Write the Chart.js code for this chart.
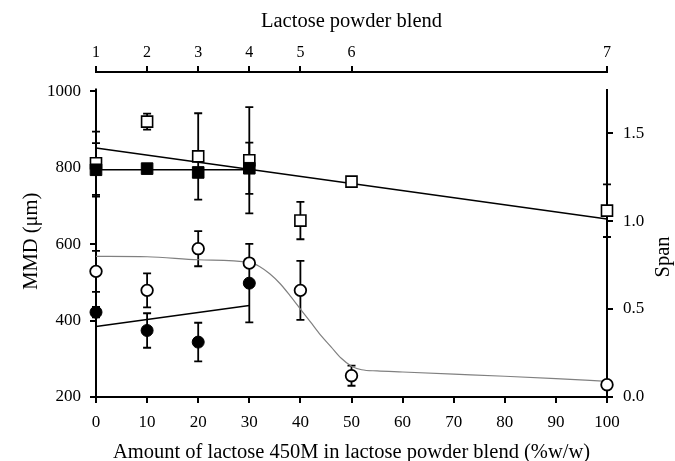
<!DOCTYPE html>
<html><head><meta charset="utf-8">
<script src="https://cdn.jsdelivr.net/npm/chart.js@4/dist/chart.umd.min.js"></script>
<style>html,body{margin:0;padding:0;background:#fff}canvas{display:block}</style>
</head><body>
<canvas id="c" width="675" height="461"></canvas>
<script>
// ---- data ----
const xPct = [0,10,20,30,40,50,100];           // % lactose 450M
const blendLabels = ['1','2','3','4','5','6','7']; // top axis (blend number)
const xTicksBottom = [0,10,20,30,40,50,60,70,80,90,100];
const mmdTicks = [200,400,600,800,1000];
const spanTicks = [0,0.5,1.0,1.5];

const openSqMMD = [812,921,830,820,662,764,688];
const openSqErr = [83,21,113,139,49,6,69];
const filledSqX = [0,10,20,30];
const filledSqMMD = [795,798,788,799];
const filledSqErr = [70,0,0,67];
const openCircSpan = [0.714,0.606,0.843,0.761,0.606,0.121,0.070];
const openCircErr = [0.116,0.097,0.10,0.02,0.168,0.057,0.01];
const filledCircX = [0,10,20,30];
const filledCircSpan = [0.482,0.378,0.312,0.647];
const filledCircErr = [0.03,0.098,0.11,0.223];

const openSqFitX = [0,100];      const openSqFitY = [852,666];
const filledSqFitX = [0,30];     const filledSqFitY = [795,795];
const filledCircFitX = [0,30];   const filledCircFitY = [0.401,0.520];
const sigFitX = [0,10,20,30,32,34,36,38,40,42,44,46,48,50,52,55,60,70,80,90,100];
const sigFitY = [0.799,0.797,0.78,0.765,0.742,0.70,0.645,0.575,0.50,0.425,0.35,0.285,0.22,0.175,0.155,0.148,0.142,0.13,0.118,0.104,0.089];

const pts = (xs, ys) => xs.map((x,i)=>({x:x, y:ys[i]}));
const FONT = 'Liberation Serif';
Chart.defaults.font.family = FONT;
Chart.defaults.color = '#000';

const errorBars = {
  id:'errorBars',
  beforeDatasetsDraw(chart){
    const ctx = chart.ctx;
    const a = chart.chartArea, s = chart.scales;
    // vertical axis lines
    ctx.save(); ctx.strokeStyle='#000'; ctx.lineWidth=2;
    ctx.beginPath();
    ctx.moveTo(a.left, s.y.getPixelForValue(mmdTicks[mmdTicks.length-1]) - 3);
    ctx.lineTo(a.left, a.bottom);
    ctx.moveTo(a.right, s.y2.getPixelForValue(1.75));
    ctx.lineTo(a.right, a.bottom + 4);
    ctx.stroke(); ctx.restore();
    chart.data.datasets.forEach((ds,di)=>{
      if(!ds.errors) return;
      const meta = chart.getDatasetMeta(di);
      const xs = chart.scales[meta.xAxisID], ys = chart.scales[meta.yAxisID];
      ctx.save(); ctx.strokeStyle='#000'; ctx.lineWidth=1.8;
      ds.data.forEach((p,i)=>{
        const e = ds.errors[i]; if(!e) return;
        const px = xs.getPixelForValue(p.x);
        const y1 = ys.getPixelForValue(p.y+e), y2 = ys.getPixelForValue(p.y-e);
        ctx.beginPath();
        ctx.moveTo(px,y1); ctx.lineTo(px,y2);
        ctx.moveTo(px-4,y1); ctx.lineTo(px+4,y1);
        ctx.moveTo(px-4,y2); ctx.lineTo(px+4,y2);
        ctx.stroke();
      });
      ctx.restore();
    });
  },
  afterDraw(chart){
    const ctx = chart.ctx, s = chart.scales;
    ctx.save();
    ctx.fillStyle='#000';
    ctx.font = '20.5px "'+FONT+'"';
    ctx.textAlign='center'; ctx.textBaseline='middle';
    const yMid = (s.y.getPixelForValue(200)+s.y.getPixelForValue(1000))/2 - 3;
    ctx.save(); ctx.translate(32, yMid); ctx.rotate(-Math.PI/2); ctx.fillText('MMD (μm)',0,0); ctx.restore();
    ctx.save(); ctx.translate(664, 257); ctx.rotate(-Math.PI/2); ctx.fillText('Span',0,0); ctx.restore();
    ctx.restore();
  }
};

const tickGrid = {drawOnChartArea:false, drawTicks:true, tickLength:6, color:'#000', lineWidth:2};

new Chart(document.getElementById('c'), {
  type:'scatter',
  data:{ datasets:[
    {label:'open squares', data:pts(xPct, openSqMMD), errors:openSqErr, xAxisID:'x', yAxisID:'y',
     pointStyle:'rect', pointRadius:7.8, backgroundColor:'#fff', borderColor:'#000', borderWidth:1.6, showLine:false, order:2, clip:false},
    {label:'filled squares', data:pts(filledSqX, filledSqMMD), errors:filledSqErr, xAxisID:'x', yAxisID:'y',
     pointStyle:'rect', pointRadius:8.2, backgroundColor:'#000', borderColor:'#000', borderWidth:1, showLine:false, order:1, clip:false},
    {label:'open circles', data:pts(xPct, openCircSpan), errors:openCircErr, xAxisID:'x', yAxisID:'y2',
     pointStyle:'circle', pointRadius:5.8, backgroundColor:'#fff', borderColor:'#000', borderWidth:1.8, showLine:false, order:1, clip:false},
    {label:'filled circles', data:pts(filledCircX, filledCircSpan), errors:filledCircErr, xAxisID:'x', yAxisID:'y2',
     pointStyle:'circle', pointRadius:6, backgroundColor:'#000', borderColor:'#000', borderWidth:1, showLine:false, order:1, clip:false},
    {label:'open square fit', data:pts(openSqFitX, openSqFitY), xAxisID:'x', yAxisID:'y',
     showLine:true, pointRadius:0, borderColor:'#000', borderWidth:1.6, order:5, clip:false},
    {label:'filled square fit', data:pts(filledSqFitX, filledSqFitY), xAxisID:'x', yAxisID:'y',
     showLine:true, pointRadius:0, borderColor:'#000', borderWidth:1.6, order:5, clip:false},
    {label:'filled circle fit', data:pts(filledCircFitX, filledCircFitY), xAxisID:'x', yAxisID:'y2',
     showLine:true, pointRadius:0, borderColor:'#000', borderWidth:1.6, order:5, clip:false},
    {label:'open circle fit', data:pts(sigFitX, sigFitY), xAxisID:'x', yAxisID:'y2',
     showLine:true, pointRadius:0, borderColor:'#808080', borderWidth:1.2, cubicInterpolationMode:'monotone', order:5, clip:false}
  ]},
  options:{
    responsive:false, animation:false, events:[],
    layout:{padding:0},
    plugins:{legend:{display:false}, tooltip:{enabled:false}},
    scales:{
      x:{type:'linear', position:'bottom', min:0, max:100,
        afterBuildTicks:s=>{ s.ticks = xTicksBottom.map(v=>({value:v})); },
        afterFit:s=>{ s.height = 64; },
        border:{display:true, color:'#000', width:2},
        grid:tickGrid,
        ticks:{font:{size:17}, color:'#000', padding:9, maxRotation:0, autoSkip:false, callback:v=>String(v)},
        title:{display:true, text:'Amount of lactose 450M in lactose powder blend (%w/w)', font:{size:20.5, lineHeight:0.85}, color:'#000', padding:{top:0,bottom:0}}
      },
      x2:{type:'linear', position:'top', min:0, max:100,
        afterBuildTicks:s=>{ s.ticks = xPct.map(v=>({value:v})); },
        afterFit:s=>{ s.height = 72; },
        border:{display:true, color:'#000', width:2},
        grid:tickGrid,
        ticks:{font:{size:16}, color:'#000', padding:4, maxRotation:0, autoSkip:false, callback:(v,i)=>blendLabels[i]},
        title:{display:true, text:'Lactose powder blend', font:{size:20.5}, color:'#000', padding:{top:9,bottom:0}}
      },
      y:{type:'linear', position:'left', min:200, max:1051,
        afterBuildTicks:s=>{ s.ticks = mmdTicks.map(v=>({value:v})); },
        afterFit:s=>{ s.width = 96; },
        border:{display:false},
        grid:tickGrid,
        ticks:{font:{size:17}, color:'#000', padding:9, callback:v=>String(v)}
      },
      y2:{type:'linear', position:'right', min:0, max:1.847,
        afterBuildTicks:s=>{ s.ticks = spanTicks.map(v=>({value:v})); },
        afterFit:s=>{ s.width = 68; },
        border:{display:false},
        grid:tickGrid,
        ticks:{font:{size:17}, color:'#000', padding:10, callback:v=>v.toFixed(1)}
      }
    }
  },
  plugins:[errorBars]
});
</script>
</body></html>
